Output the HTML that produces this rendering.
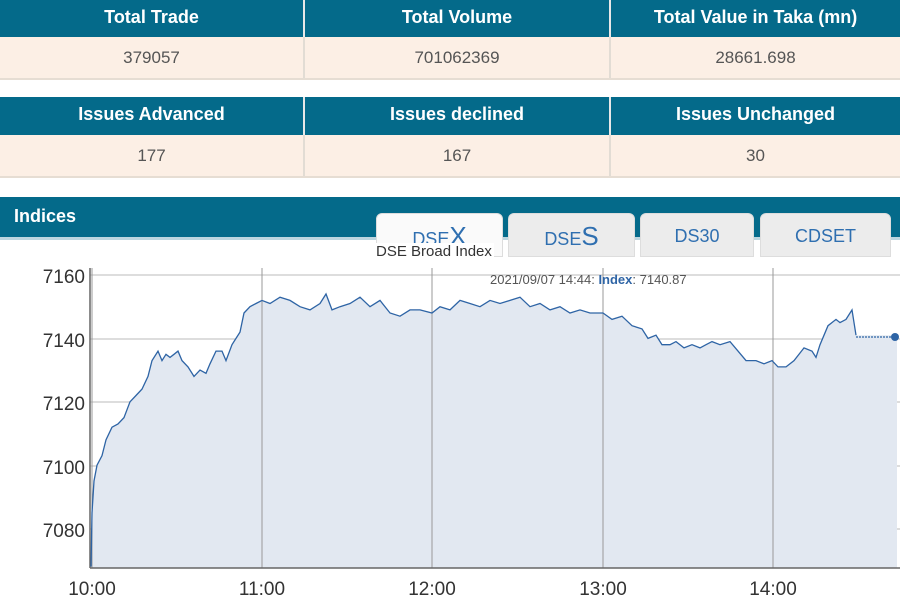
<!DOCTYPE html>
<html><head><meta charset="utf-8"><style>
*{margin:0;padding:0;box-sizing:border-box}
body{width:900px;height:600px;background:#fff;font-family:"Liberation Sans",Arial,sans-serif;overflow:hidden;position:relative}
.row{position:absolute;left:0;width:900px;display:flex}
.row div{flex:0 0 auto;text-align:center;border-right:2px solid #e2dcd4}
.h{background:#046a8a;color:#fff;font-weight:bold;font-size:18px}
.h div{border-right:2px solid #e8e8e8}
.d{background:#fcefe5;color:#555;font-size:17px;border-bottom:2px solid #e6ddd3}
.tab{position:absolute;top:213px;height:44px;background:#ececec;border:1px solid #ddd;border-radius:6px 6px 0 0;color:#2f6fb0;font-size:18px;text-align:center;line-height:44px}
</style></head><body>
<div class="row h" style="top:0;height:37px;line-height:35px"><div style="width:305px">Total Trade</div><div style="width:306px">Total Volume</div><div style="width:289px;border:none">Total Value in Taka (mn)</div></div>
<div class="row d" style="top:37px;height:43px;line-height:42px"><div style="width:305px">379057</div><div style="width:306px">701062369</div><div style="width:289px;border:none">28661.698</div></div>
<div class="row h" style="top:97px;height:38px;line-height:35px"><div style="width:305px">Issues Advanced</div><div style="width:306px">Issues declined</div><div style="width:289px;border:none">Issues Unchanged</div></div>
<div class="row d" style="top:135px;height:43px;line-height:42px"><div style="width:305px">177</div><div style="width:306px">167</div><div style="width:289px;border:none">30</div></div>
<div style="position:absolute;top:197px;left:0;width:900px;height:40px;background:#046a8a;color:#fff;font-weight:bold;font-size:18px;padding:9px 0 0 14px">Indices</div>
<div style="position:absolute;top:237px;left:0;width:900px;height:3px;background:#bcd6e0"></div>
<div class="tab" style="left:376px;width:127px;background:#fafafa">DSE<span style="font-size:26px">X</span></div>
<div class="tab" style="left:508px;width:127px">DSE<span style="font-size:26px">S</span></div>
<div class="tab" style="left:640px;width:114px">DS30</div>
<div class="tab" style="left:760px;width:131px">CDSET</div>
<div style="position:absolute;top:243px;left:374px;font-size:15px;color:#333;background:#fff;padding:0 2px">DSE Broad Index</div>
<svg style="position:absolute;left:0;top:0" width="900" height="600" id="s">
<g stroke="#bbb" stroke-width="1">
<line x1="90" y1="275" x2="900" y2="275"/><line x1="90" y1="339" x2="900" y2="339"/><line x1="90" y1="402" x2="900" y2="402"/><line x1="90" y1="466" x2="900" y2="466"/><line x1="90" y1="529" x2="900" y2="529"/>
</g>
<path id="area" fill="#e2e8f1" stroke="none"/>
<g stroke="#999" stroke-width="1">
<line x1="92" y1="268" x2="92" y2="568"/><line x1="262" y1="268" x2="262" y2="568"/><line x1="432" y1="268" x2="432" y2="568"/><line x1="603" y1="268" x2="603" y2="568"/><line x1="773" y1="268" x2="773" y2="568"/>
</g>
<line x1="90" y1="268" x2="90" y2="568" stroke="#666" stroke-width="1.5"/>
<line x1="90" y1="568" x2="900" y2="568" stroke="#666" stroke-width="1.5"/>
<polyline id="ln" fill="none" stroke="#2e64a5" stroke-width="1.3"/>
<line x1="856" y1="337" x2="895" y2="337" stroke="#2e64a5" stroke-width="1.3" stroke-dasharray="2,1"/>
<circle cx="895" cy="337" r="4" fill="#2e64a5"/>
<g font-size="19" fill="#333" text-anchor="end">
<text x="85" y="283">7160</text><text x="85" y="347">7140</text><text x="85" y="410">7120</text><text x="85" y="474">7100</text><text x="85" y="537">7080</text>
</g>
<g font-size="19" fill="#333" text-anchor="middle">
<text x="92" y="595">10:00</text><text x="262" y="595">11:00</text><text x="432" y="595">12:00</text><text x="603" y="595">13:00</text><text x="773" y="595">14:00</text>
</g>
<text x="490" y="284" font-size="13" fill="#555">2021/09/07 14:44: <tspan fill="#2e64a5" font-weight="bold">Index</tspan>: 7140.87</text>
</svg>
<script>
var d=[91,7068,92,7085,94,7095,97,7100,102,7103,106,7108,112,7112,118,7113,124,7115,130,7120,136,7122,142,7124,148,7128,152,7133,158,7136,162,7133,166,7135,170,7134,174,7135,178,7136,182,7133,188,7131,194,7128,200,7130,206,7129,210,7132,216,7136,222,7136,226,7133,232,7138,236,7140,240,7142,244,7148,250,7150,256,7151,262,7152,270,7151,280,7153,290,7152,300,7150,310,7149,320,7151,326,7154,332,7149,340,7150,350,7151,360,7153,370,7150,380,7152,390,7148,400,7147,410,7149,420,7149,432,7148,440,7150,450,7149,460,7152,470,7151,480,7150,490,7152,500,7151,510,7152,520,7153,530,7150,540,7151,550,7149,560,7150,570,7148,580,7149,590,7148,603,7148,612,7146,622,7147,632,7144,642,7143,648,7140,656,7141,662,7138,670,7138,676,7139,684,7137,692,7138,700,7137,706,7138,712,7139,720,7138,730,7139,738,7136,746,7133,756,7133,764,7132,772,7133,778,7131,786,7131,794,7133,804,7137,812,7136,816,7134,820,7138,828,7144,836,7146,840,7145,846,7146,852,7149,856,7141];
var p=[];for(var i=0;i<d.length;i+=2){p.push(d[i]+","+(275+(7160-d[i+1])*3.17).toFixed(1));}
document.getElementById("ln").setAttribute("points",p.join(" "));
var y0=(275+(7160-7141)*3.17).toFixed(1);
document.getElementById("area").setAttribute("d","M91,568 L"+p.join(" L")+" L897,"+y0+" L897,568 Z");
</script>
</body></html>
